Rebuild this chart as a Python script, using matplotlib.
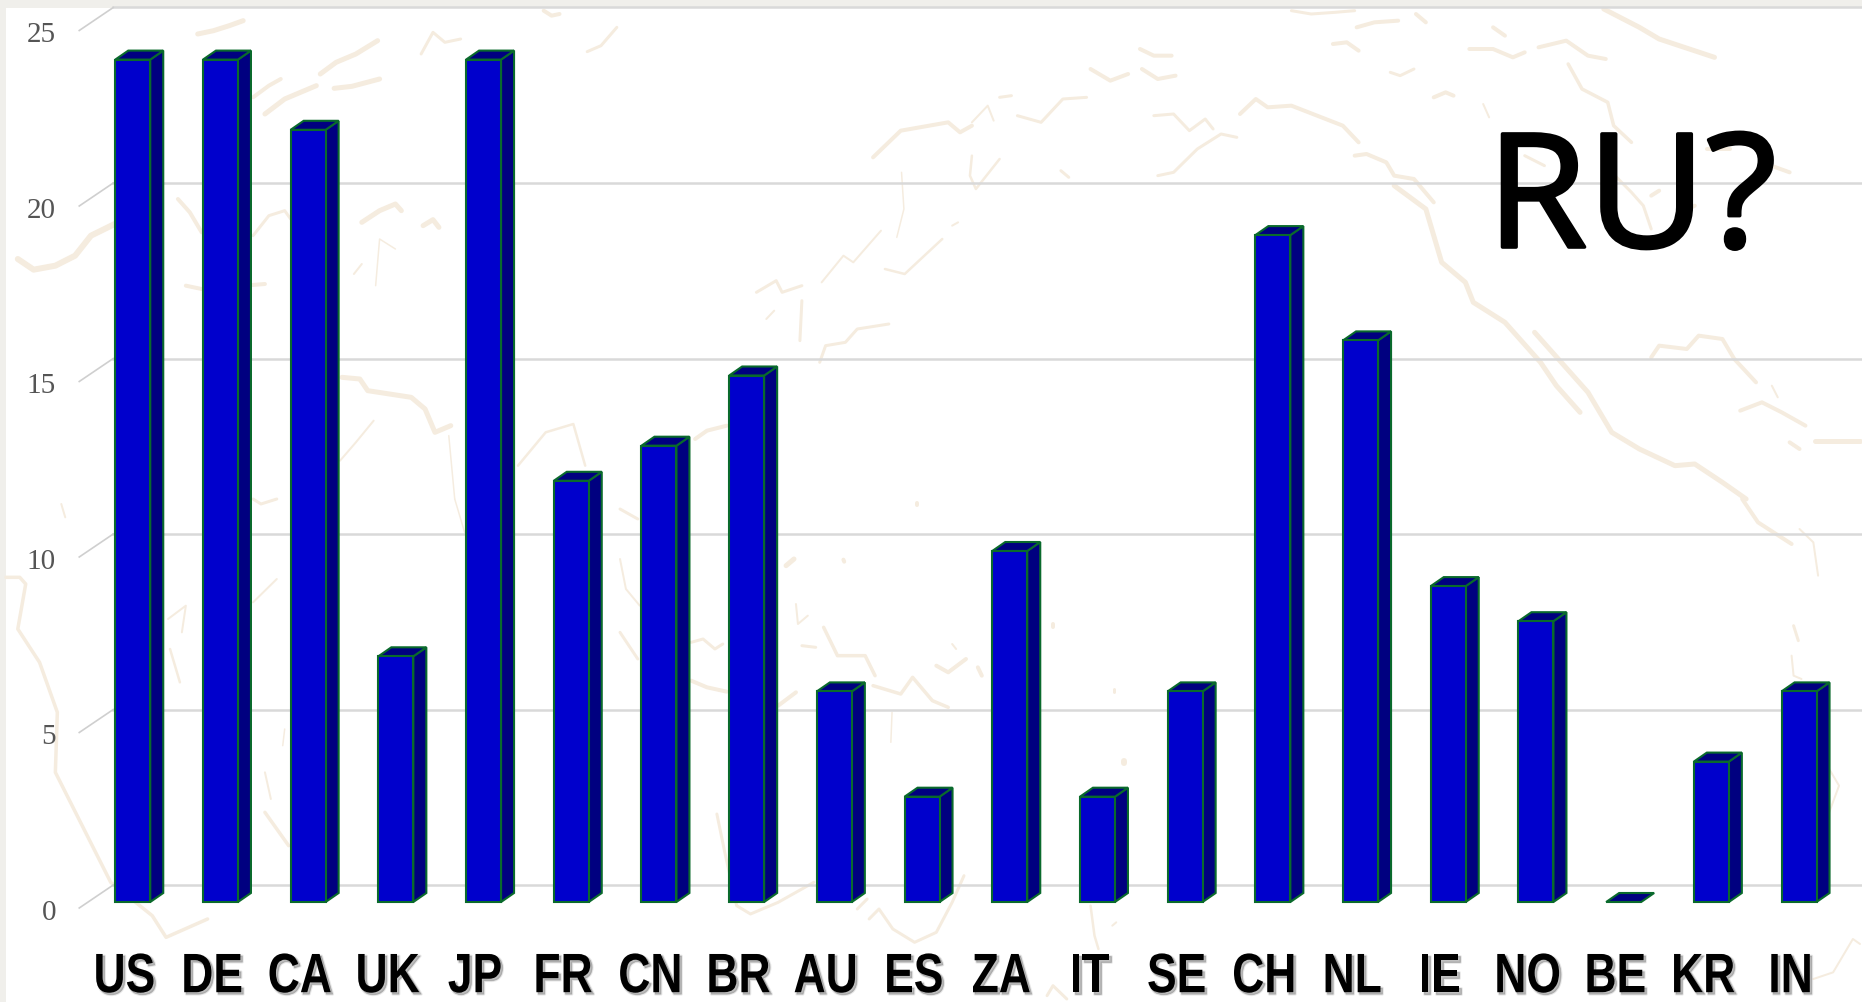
import matplotlib
matplotlib.use("Agg")
import matplotlib.pyplot as plt
import matplotlib.patheffects as pe
from matplotlib.patches import Polygon, Rectangle
from matplotlib.transforms import Affine2D, ScaledTranslation

W, H = 1862, 1003

countries = ["US", "DE", "CA", "UK", "JP", "FR", "CN", "BR", "AU", "ES",
             "ZA", "IT", "SE", "CH", "NL", "IE", "NO", "BE", "KR", "IN"]
counts = [24, 24, 22, 7, 24, 12, 13, 15, 6, 3, 10, 3, 6, 19, 16, 9, 8, 0, 4, 6]
y_ticks = [0, 5, 10, 15, 20, 25]
note = "RU?"

# Faint world-map strokes behind the chart, grouped by sheet section:
# (section origin x, origin y, [(stroke width px, [(x, y), ...]), ...])
SX, SY = 2.529, 3.0
map_sections = [
    (0, 0, [
        (5, [(500, 105), (540, 95), (580, 80), (615, 65)]),
        (5, [(810, 225), (850, 190), (900, 165), (955, 125)]),
        (5, [(670, 345), (720, 300), (800, 260)]),
        (4, [(640, 295), (680, 260), (710, 240)]),
        (5, [(845, 268), (890, 262), (960, 240)]),
        (3, [(1065, 165), (1095, 100), (1125, 130), (1165, 120)]),
        (4, [(1375, 35), (1395, 50), (1415, 45)]),
        (3, [(1485, 158), (1520, 140), (1560, 85)]),
        (6, [(45, 780), (85, 812), (140, 800), (190, 770), (230, 710), (290, 675)]),
        (4, [(450, 600), (480, 640), (510, 700)]),
        (3, [(640, 710), (680, 650), (720, 635), (735, 660)]),
        (5, [(915, 670), (960, 635), (1000, 615), (1015, 635)]),
        (5, [(1070, 680), (1095, 662), (1110, 685)]),
        (1.5, [(950, 860), (960, 720), (1000, 750)]),
        (2, [(895, 825), (915, 795)]),
        (4, [(470, 860), (510, 870), (670, 855)]),
        (5, [(865, 1135), (910, 1140), (930, 1175), (1040, 1195), (1075, 1230), (1100, 1300), (1140, 1280)]),
        (1.5, [(1135, 1310), (1150, 1500)]),
        (2.5, [(1310, 1400), (1380, 1300), (1450, 1275), (1480, 1400)]),
        (2, [(860, 1385), (900, 1330), (945, 1265)]),
    ]),
    (620, 0, [
        (4, [(640, 475), (710, 395), (830, 370), (860, 400), (890, 380)]),
        (2, [(890, 370), (930, 320), (945, 365)]),
        (3, [(1005, 350), (1065, 370), (1120, 300), (1180, 295)]),
        (3, [(960, 295), (990, 290)]),
        (4, [(1190, 210), (1240, 245), (1285, 225)]),
        (4, [(1315, 150), (1350, 170), (1395, 170)]),
        (4, [(1320, 210), (1360, 240), (1405, 230)]),
        (3, [(1350, 350), (1400, 345), (1440, 395), (1480, 360), (1500, 390)]),
        (3, [(1360, 530), (1400, 520), (1460, 450), (1520, 405), (1560, 415)]),
        (2.5, [(890, 470), (885, 530), (900, 570), (960, 480)]),
        (3, [(1115, 515), (1135, 535)]),
        (1.5, [(712, 520), (718, 630), (700, 715)]),
        (2, [(510, 850), (565, 770), (590, 790), (660, 695)]),
        (3, [(345, 880), (395, 845), (410, 880), (460, 860)]),
        (2.5, [(670, 810), (720, 825), (815, 720)]),
        (2, [(840, 680), (855, 670)]),
        (2, [(370, 960), (390, 935)]),
        (3, [(460, 905), (455, 1025)]),
        (3, [(505, 1090), (520, 1040), (570, 1030), (600, 990), (680, 975)]),
        (4, [(190, 1320), (220, 1295), (270, 1280)]),
    ]),
    (1240, 0, [
        (3, [(130, 35), (180, 45), (240, 40), (290, 35)]),
        (4, [(295, 85), (340, 70), (400, 65)]),
        (4, [(235, 135), (270, 130), (300, 155)]),
        (4, [(445, 45), (470, 70)]),
        (4, [(640, 85), (670, 110)]),
        (4, [(580, 150), (640, 150), (690, 175), (720, 160)]),
        (4, [(755, 145), (825, 125), (880, 170), (925, 180)]),
        (5, [(920, 30), (1010, 85), (1060, 120), (1200, 175)]),
        (3, [(380, 220), (405, 230), (440, 210)]),
        (4, [(490, 295), (520, 280), (540, 290)]),
        (2, [(615, 315), (630, 355)]),
        (3.5, [(830, 195), (865, 270), (930, 310), (945, 380), (990, 430)]),
        (4, [(0, 345), (40, 300), (70, 325), (130, 320), (260, 380), (300, 430)]),
        (4, [(290, 470), (320, 465), (370, 490), (390, 530), (440, 540), (490, 610)]),
        (5, [(390, 560), (470, 630), (510, 790), (570, 850), (590, 910), (670, 970), (760, 1090), (800, 1160), (860, 1240)]),
        (5, [(745, 1000), (820, 1100), (880, 1180), (940, 1300), (1010, 1350), (1100, 1400), (1150, 1395), (1220, 1450), (1280, 1500)]),
        (3, [(720, 470), (770, 500)]),
        (3, [(940, 520), (990, 580), (1020, 620), (1040, 690)]),
        (4, [(1040, 590), (1060, 575)]),
        (4, [(1120, 640), (1150, 620)]),
        (4, [(1180, 450), (1240, 450)]),
        (4, [(1320, 490), (1390, 520)]),
        (4, [(1040, 1075), (1060, 1040), (1130, 1050), (1160, 1010), (1220, 1020), (1250, 1080), (1305, 1150)]),
        (4, [(1265, 1235), (1320, 1210), (1370, 1240), (1430, 1280)]),
        (5, [(1455, 1325), (1568, 1325)]),
        (4, [(1390, 1330), (1415, 1350)]),
        (2, [(1345, 1160), (1360, 1195)]),
    ]),
    (0, 500, [
        (3.5, [(15, 235), (50, 235), (65, 255), (45, 390), (100, 490), (145, 640), (140, 820), (280, 1150), (385, 1250), (420, 1315), (525, 1260)]),
        (2, [(425, 360), (470, 320), (460, 400)]),
        (2.5, [(430, 450), (455, 550)]),
        (2, [(640, 310), (700, 240)]),
        (2, [(155, 15), (165, 55)]),
        (1.5, [(720, 690), (715, 740)]),
        (2, [(670, 820), (685, 900)]),
        (3.5, [(670, 940), (730, 1040)]),
        (1.5, [(1150, 0), (1175, 100)]),
        (3, [(640, 0), (660, 15), (700, 0)]),
    ]),
    (620, 500, [
        (3, [(0, 30), (45, 60)]),
        (2, [(0, 180), (15, 270), (50, 320)]),
        (3, [(0, 400), (45, 480)]),
        (3, [(180, 430), (210, 420), (240, 450), (260, 435)]),
        (4, [(180, 545), (220, 565), (270, 578)]),
        (4, [(400, 620), (445, 580)]),
        (5, [(420, 200), (440, 180)]),
        (2, [(445, 315), (450, 375), (475, 350)]),
        (3, [(460, 440), (495, 445)]),
        (3.5, [(515, 385), (550, 470), (620, 470), (645, 530)]),
        (3.5, [(640, 560), (710, 585), (740, 535), (790, 605), (830, 625)]),
        (4, [(800, 500), (830, 520), (875, 480)]),
        (2, [(840, 435), (850, 450)]),
        (4, [(905, 505), (915, 530)]),
        (3, [(245, 945), (265, 1060), (295, 1220), (330, 1245), (400, 1210), (490, 1150)]),
        (3, [(600, 1230), (625, 1200)]),
        (3, [(630, 1260), (655, 1230), (690, 1290), (745, 1330), (800, 1300), (840, 1210), (870, 1130)]),
        (2.5, [(1190, 1220), (1200, 1310), (1210, 1350)]),
        (2, [(1245, 1280), (1255, 1270)]),
        (3, [(1080, 1490), (1095, 1460), (1130, 1500)]),
        (1.5, [(688, 640), (685, 730)]),
        (4, [(565, 182), (567, 188)]),
        (4, [(750, 12), (750, 18)]),
        (4, [(1095, 375), (1095, 385)]),
        (3, [(1250, 570), (1250, 580)]),
        (6, [(1275, 787), (1275, 793)]),
    ]),
    (1240, 500, [
        (4, [(1270, 0), (1310, 70), (1395, 135)]),
        (2, [(1415, 90), (1450, 130), (1462, 230)]),
        (3, [(1400, 380), (1412, 425)]),
        (2, [(1395, 470), (1400, 530), (1420, 540)]),
        (2, [(1490, 810), (1515, 860), (1490, 940)]),
        (2, [(1450, 1440), (1500, 1420), (1550, 1320), (1568, 1335)]),
    ]),
]


class WidthScaled(pe.AbstractPathEffect):
    """Draws a text path stretched horizontally about its centre, optionally
    thickened by a stroke, shifted, and recoloured."""

    def __init__(self, factor, stroke=0.0, shift=(0, 0), color=None, alpha=None):
        super().__init__()
        self.factor = factor
        self.stroke = stroke
        self.shift = shift
        self.color = color
        self.alpha = alpha

    def draw_path(self, renderer, gc, tpath, affine, rgbFace=None):
        ext = tpath.get_extents(affine)
        cx = (ext.x0 + ext.x1) / 2
        scaled = affine + (Affine2D().translate(-cx, 0).scale(self.factor, 1)
                           .translate(cx + self.shift[0], self.shift[1]))
        face = self.color if self.color is not None else rgbFace
        rgba = matplotlib.colors.to_rgba(face, self.alpha)
        gc0 = renderer.new_gc()
        gc0.copy_properties(gc)
        gc0.set_alpha(rgba[3])
        gc0.set_foreground(rgba[:3])
        gc0.set_linewidth(self.stroke)
        renderer.draw_path(gc0, tpath, scaled, rgba[:3] + (rgba[3],))
        gc0.restore()


fig = plt.figure(figsize=(W / 100, H / 100), dpi=100, facecolor="#F0EFEB")

# Backdrop layer, addressed in sheet pixels
bg = fig.add_axes([0, 0, 1, 1], zorder=0)
bg.set_xlim(0, W)
bg.set_ylim(H, 0)
bg.axis("off")
bg.add_patch(Rectangle((6, 9), W - 6, H - 9, facecolor="white", edgecolor="none"))
for ox, oy, strokes in map_sections:
    for width, pts in strokes:
        bg.plot([ox + p[0] / SX for p in pts], [oy + p[1] / SY for p in pts],
                color="#F5ECDF", lw=width * 0.72, solid_capstyle="round",
                solid_joinstyle="round", clip_on=True)

# Chart layer: x in category steps, y in counts
STEP_PX = 87.7
UNIT_PX = 35.1
AX_LEFT, AX_BOTTOM = 56, 940
BASE_PX = 903
FIRST_CENTER_PX = 132.75

ax = fig.add_axes([AX_LEFT / W, (H - AX_BOTTOM) / H, (W - AX_LEFT) / W, AX_BOTTOM / H], zorder=1)
ax.patch.set_visible(False)
ax.set_xlim((AX_LEFT - FIRST_CENTER_PX) / STEP_PX, (W - FIRST_CENTER_PX) / STEP_PX)
ax.set_ylim((BASE_PX - AX_BOTTOM) / UNIT_PX, BASE_PX / UNIT_PX)
for spine in ax.spines.values():
    spine.set_visible(False)

bar_w = 35 / STEP_PX
depth_x = 13 / STEP_PX
depth_y = 9 / UNIT_PX
wall_x = -19.5 / STEP_PX
wall_y = 17 / UNIT_PX
diag_x = -53.5 / STEP_PX
diag_y = -6 / UNIT_PX

# Back-wall grid with the slanted floor/side returns
x_right = ax.get_xlim()[1]
for v in y_ticks:
    ax.plot([wall_x, x_right], [v + wall_y, v + wall_y], color="#D9D9D9", lw=1.8, zorder=1, clip_on=False)
    ax.plot([diag_x, wall_x], [v + diag_y, v + wall_y], color="#CFCFCF", lw=1.2, zorder=1, clip_on=False)

# Extruded bars
FRONT, SHADE, EDGE = "#0000CC", "#000080", "#0A6A2C"
LW = 1.5
for i, v in enumerate(counts):
    x0 = i - bar_w / 2
    x1 = i + bar_w / 2
    if v > 0:
        ax.add_patch(Polygon([(x1, 0), (x1 + depth_x, depth_y), (x1 + depth_x, v + depth_y), (x1, v)],
                             closed=True, facecolor=SHADE, edgecolor=EDGE, linewidth=LW, zorder=2.9))
    ax.add_patch(Polygon([(x0, v), (x0 + depth_x, v + depth_y), (x1 + depth_x, v + depth_y), (x1, v)],
                         closed=True, facecolor=SHADE, edgecolor=EDGE, linewidth=LW, zorder=2.9))
    if v > 0:
        ax.bar(i, v, width=bar_w, color=FRONT, edgecolor=EDGE, linewidth=LW, zorder=3)

# Value axis labels sit slightly below their gridline front edge
ax.set_yticks(y_ticks)
ax.set_yticklabels([str(v) for v in y_ticks], fontfamily="Liberation Serif", fontsize=21, color="#555555")
ax.tick_params(axis="y", length=0, pad=0)
down = ScaledTranslation(0, -7 / 100, fig.dpi_scale_trans)
for lab in ax.get_yticklabels():
    lab.set_transform(lab.get_transform() + down)

# Narrowed country labels with a soft drop shadow
ax.set_xticks(range(len(countries)))
ax.set_xticklabels(countries, fontfamily="Liberation Sans", fontweight="bold", fontsize=40, color="black")
ax.tick_params(axis="x", length=0, pad=9.5)
left = ScaledTranslation(-8.5 / 100, 0, fig.dpi_scale_trans)
for lab in ax.get_xticklabels():
    lab.set_transform(lab.get_transform() + left)
    lab.set_path_effects([
        WidthScaled(0.8, stroke=2.0, shift=(2, -2), color="#888888", alpha=0.18),
        WidthScaled(0.8, stroke=0.6, shift=(2, -2), color="#666666", alpha=0.3),
        WidthScaled(0.8),
    ])

note_text = fig.text(1491 / W, 1 - 248 / H, note, fontfamily="Open Sans", fontsize=114,
                     color="black", ha="left", va="baseline", zorder=5)
note_text.set_path_effects([WidthScaled(1.03, stroke=2.6)])

fig.savefig("out.png", dpi=100, facecolor=fig.get_facecolor())
